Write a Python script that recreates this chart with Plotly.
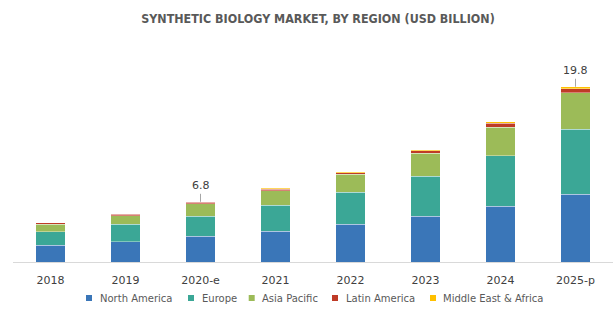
import plotly.graph_objects as go

# Synthetic biology market by region, USD billion
years = ["2018", "2019", "2020-e", "2021", "2022", "2023", "2024", "2025-p"]
north_america = [1.92, 2.30, 2.90, 3.48, 4.29, 5.16, 6.29, 7.65]
europe = [1.50, 1.97, 2.25, 2.92, 3.58, 4.52, 5.72, 7.35]
asia_pacific = [0.87, 0.97, 1.45, 1.66, 2.03, 2.60, 3.24, 4.12]
latin_america = [0.12, 0.15, 0.13, 0.18, 0.20, 0.28, 0.45, 0.48]
middle_east_africa = [0.05, 0.06, 0.07, 0.09, 0.10, 0.11, 0.12, 0.20]

# Totals called out above selected bars
callout_years = ["2020-e", "2025-p"]
callout_labels = ["6.8", "19.8"]

series = [
    ("North America", north_america, "#3a76b8"),
    ("Europe", europe, "#3ba796"),
    ("Asia Pacific", asia_pacific, "#9cbb58"),
    ("Latin America", latin_america, "#bf3b27"),
    ("Middle East & Africa", middle_east_africa, "#ffc000"),
]

W, H = 615, 323
M = dict(l=13, r=2, t=40, b=61)
plot_w = W - M["l"] - M["r"]
plot_h = H - M["t"] - M["b"]


def px_to_paper_x(px):
    return (px - M["l"]) / plot_w


def px_to_paper_y(py):
    return (H - M["b"] - py) / plot_h


fig = go.Figure()
for name, vals, color in series:
    fig.add_trace(go.Bar(
        x=years, y=vals, name=name, showlegend=False,
        marker=dict(color=color, line=dict(color="rgba(255,255,255,0.45)", width=0.8)),
        hoverinfo="x+y+name",
    ))

totals = [sum(v) for v in zip(north_america, europe, asia_pacific, latin_america, middle_east_africa)]
for yr, lab in zip(callout_years, callout_labels):
    i = years.index(yr)
    fig.add_annotation(
        x=yr, y=totals[i], text=lab, showarrow=True, arrowhead=0,
        arrowwidth=1, arrowcolor="#a6a6a6", ax=0, ay=-16,
        font=dict(family="DejaVu Sans", size=11, color="#404040"),
    )

# Legend row: small square key followed by its label
key_x = [89, 191, 251.7, 335, 433]
legend_y = 298
for (name, _, color), kx in zip(series, key_x):
    fig.add_shape(
        type="rect", xref="paper", yref="paper",
        x0=px_to_paper_x(kx - 3), x1=px_to_paper_x(kx + 3),
        y0=px_to_paper_y(legend_y + 3), y1=px_to_paper_y(legend_y - 3),
        fillcolor=color, line=dict(width=0),
    )
    fig.add_annotation(
        xref="paper", yref="paper", x=px_to_paper_x(kx + 8.5), y=px_to_paper_y(legend_y),
        xanchor="left", yanchor="middle", text=name, showarrow=False,
        font=dict(family="DejaVu Sans", size=10, color="#595959"),
    )

fig.update_layout(
    width=W, height=H,
    margin=M,
    barmode="stack", bargap=0.61,
    plot_bgcolor="white", paper_bgcolor="white",
    showlegend=False,
    title=dict(
        text="SYNTHETIC BIOLOGY MARKET, BY REGION (USD BILLION)",
        x=318 / W, xanchor="center", y=1 - 19 / H, yanchor="middle",
        font=dict(family="DejaVu Sans Condensed", size=12.4, color="#595959", weight="bold"),
    ),
    xaxis=dict(
        showline=True, linecolor="#d9d9d9", linewidth=1, ticks="",
        ticklabelstandoff=8,
        tickfont=dict(family="DejaVu Sans", size=11, color="#404040"),
        showgrid=False,
    ),
    yaxis=dict(range=[0, 25.08], visible=False, showgrid=False),
)

fig.write_html("out.html")
